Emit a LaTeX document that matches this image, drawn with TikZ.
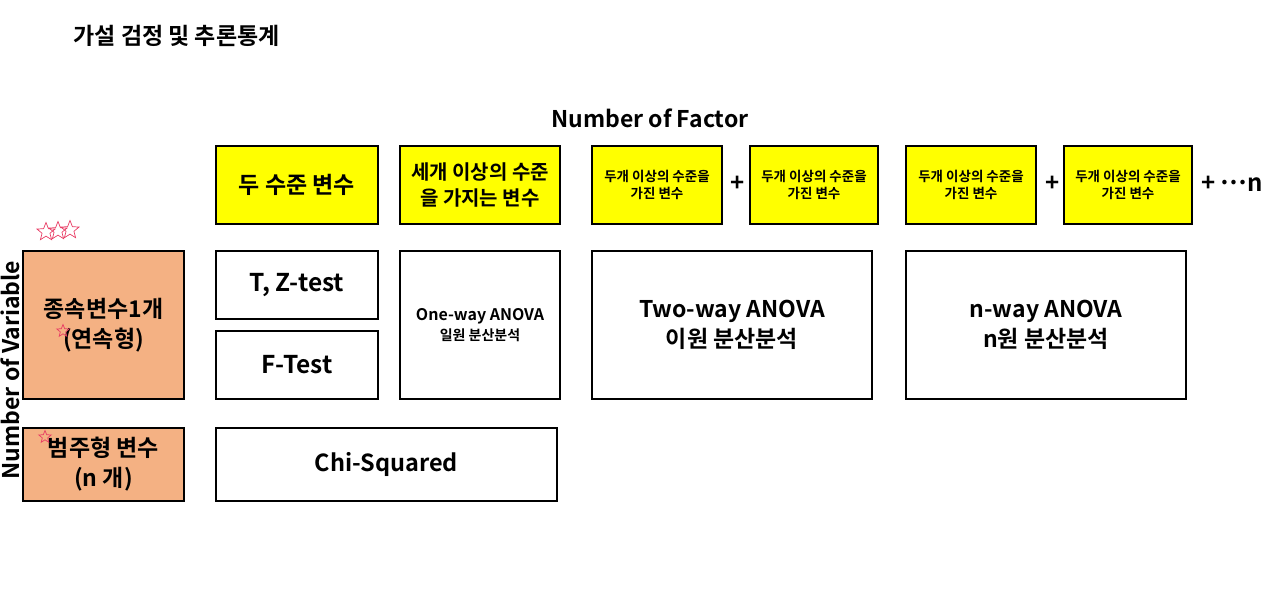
\documentclass[tikz,border=0pt]{standalone}
\usepackage{fontspec}
\setmainfont{Noto Sans CJK KR}[BoldFont={Noto Sans CJK KR Bold}]
\usetikzlibrary{shapes.geometric}
\definecolor{factoryellow}{RGB}{255,255,0}
\definecolor{varorange}{RGB}{244,177,131}
\definecolor{starred}{RGB}{232,60,100}

\newcommand{\fs}[1]{\bfseries\fontsize{#1}{1.3\dimexpr#1pt\relax}\selectfont}

\begin{document}
\begin{tikzpicture}[
    x=1pt,
    y=-1pt,
    box/.style={draw=black,line width=2.4pt,inner sep=0pt,align=center,font=\bfseries},
    factorbox/.style={box,fill=factoryellow,minimum height=78pt},
    testbox/.style={box,fill=white},
    varbox/.style={box,fill=varorange,minimum width=161pt},
    sign/.style={font=\fs{24}},
    mark star/.style={star,star points=5,star point ratio=2.3,draw=starred,line width=0.7pt,inner sep=0pt,minimum size=#1}
]
  \useasboundingbox (0,0) rectangle (1266,591);

  % titles
  \node[font=\fs{23},anchor=west] (title) at (70,36) {가설 검정 및 추론통계};
  \node[font=\fs{23}] (factor) at (650,118) {Number of Factor};
  \node[font=\fs{23},rotate=90] (variable) at (10,370) {Number of Variable};

  % factor row
  \node[factorbox,minimum width=162pt,font=\fs{23}] (two) at (297,185) {두 수준 변수};
  \node[factorbox,minimum width=160pt,font=\fs{20}] (three) at (480,185) {세개 이상의 수준\\을 가지는 변수};
  \node[factorbox,minimum width=130pt,font=\fs{13.5}] (twoA) at (657,185) {두개 이상의 수준을\\가진 변수};
  \node[sign] (plusA) at (738,184) {+};
  \node[factorbox,minimum width=128pt,font=\fs{13.5}] (twoB) at (814,185) {두개 이상의 수준을\\가진 변수};
  \node[factorbox,minimum width=130pt,font=\fs{13.5}] (nA) at (971,185) {두개 이상의 수준을\\가진 변수};
  \node[sign] (plusB) at (1053,184) {+};
  \node[factorbox,minimum width=128pt,font=\fs{13.5}] (nB) at (1128,185) {두개 이상의 수준을\\가진 변수};
  \node[sign,anchor=west,inner sep=0pt] (more) at (1201,184) {+ \raisebox{0.28em}{…}n};

  % dependent variable rows
  \node[varbox,minimum height=148pt,font=\fs{23}] (cont) at (103.5,325) {종속변수1개\\(연속형)};
  \node[varbox,minimum height=73pt,font=\fs{23}] (cat) at (103.5,464.5) {범주형 변수\\(n 개)};

  % tests
  \node[testbox,minimum width=162pt,minimum height=68pt,font=\fs{24.5}] (tz) at (297,285) {T, Z-test};
  \node[testbox,minimum width=162pt,minimum height=68pt,font=\fs{24.5}] (ftest) at (297,365) {F-Test};
  \node[testbox,minimum width=160pt,minimum height=148pt,font=\fs{16}] (oneway) at (480,325) {One-way ANOVA\\{\fs{14}일원 분산분석}};
  \node[testbox,minimum width=280pt,minimum height=148pt,font=\fs{23}] (twoway) at (732,325) {Two-way ANOVA\\이원 분산분석};
  \node[testbox,minimum width=280pt,minimum height=148pt,font=\fs{23}] (nway) at (1046,325) {n-way ANOVA\\n원 분산분석};
  \node[testbox,minimum width=341pt,minimum height=73pt,font=\fs{23.5}] (chi) at (386.5,464.5) {Chi-Squared};

  % hand-drawn marks
  \node[mark star=19pt] (starA) at (46,232) {};
  \node[mark star=19pt] (starB) at (58,231) {};
  \node[mark star=19pt] (starC) at (70,230) {};
  \node[mark star=13pt] (starD) at (63,331) {};
  \node[mark star=13pt] (starE) at (45,437) {};
\end{tikzpicture}
\end{document}
